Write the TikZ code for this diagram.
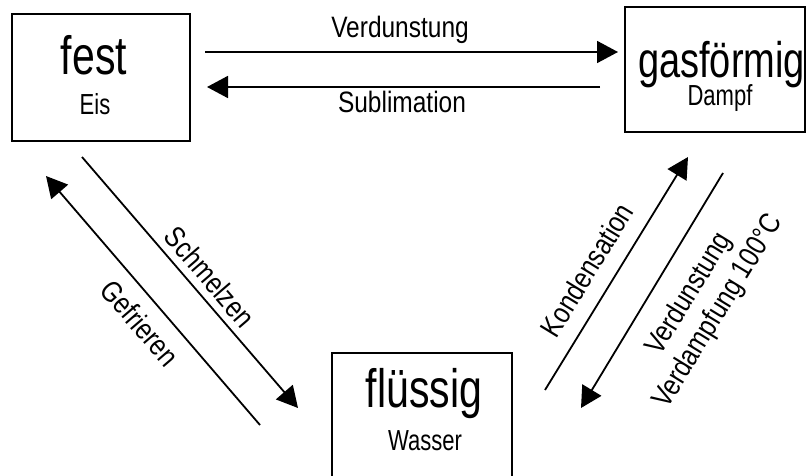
\documentclass[tikz,border=0pt]{standalone}
\usepackage{fontspec}
\newfontfamily\boxfont[FakeStretch=0.76]{Liberation Sans}
\newfontfamily\labfont[FakeStretch=0.83]{Liberation Sans}
\usetikzlibrary{arrows.meta}
\tikzset{
  box/.style={draw, line width=1.6pt, inner sep=0pt},
  big/.style={font=\boxfont\fontsize{54}{60}\selectfont, inner sep=0pt, anchor=base},
  sub/.style={font=\boxfont\fontsize{29}{33}\selectfont, inner sep=0pt, anchor=base},
  small/.style={font=\labfont\fontsize{29.5}{34}\selectfont, inner sep=0pt},
  arr/.style={line width=1.8pt, -{Triangle[length=21pt,width=22pt]}},
}
\begin{document}
\begin{tikzpicture}[x=1pt,y=-1pt]
\useasboundingbox (0,0) rectangle (809,476);
\begin{scope}
\clip (0,0) rectangle (809,476);
% boxes
\draw[box] (12,14) rectangle (190,141) node[pos=0.5] (festbox) {};
\draw[box] (625,7) rectangle (805,132) node[pos=0.5] (gasbox) {};
\draw[box] (332,353) rectangle (512,490) node[pos=0.5] (flbox) {};
\end{scope}
% box texts
\node[big] (fest) at (94,75) {fest};
\node[sub] (eis) at (95,115) {Eis};
\node[big, font=\boxfont\fontsize{50}{56}\selectfont] (gas) at (721.5,78) {gasförmig};
\node[sub] (dampf) at (720,106) {Dampf};
\node[big] (fl) at (424,407) {flüssig};
\node[sub] (wasser) at (425,450) {Wasser};
% arrow coordinates
\coordinate (a1s) at (205,52);  \coordinate (a1e) at (618,52);
\coordinate (a2s) at (600,87);  \coordinate (a2e) at (207,87);
\coordinate (a3s) at (82,157);  \coordinate (a3e) at (298,408);
\coordinate (a4s) at (260,425); \coordinate (a4e) at (46,176);
\coordinate (a5s) at (545,390); \coordinate (a5e) at (688,157);
\coordinate (a6s) at (723,173); \coordinate (a6e) at (581,408);
\draw[arr] (a1s) -- (a1e);
\draw[arr] (a2s) -- (a2e);
\draw[arr] (a3s) -- (a3e);
\draw[arr] (a4s) -- (a4e);
\draw[arr] (a5s) -- (a5e);
\draw[arr] (a6s) -- (a6e);
% labels
\node[small, anchor=base] (l1) at (400,38) {Verdunstung};
\node[small, anchor=base] (l2) at (402,113) {Sublimation};
\node[small, rotate=-49.3] (l3) at (210,277) {Schmelzen};
\node[small, rotate=-49.3] (l4) at (140,323) {Gefrieren};
\node[small, rotate=58.5] (l5) at (587,270) {Kondensation};
\node[small, rotate=58.5, align=center] (l6) at (704,303) {Verdunstung\\Verdampfung 100°C};
\end{tikzpicture}
\end{document}
